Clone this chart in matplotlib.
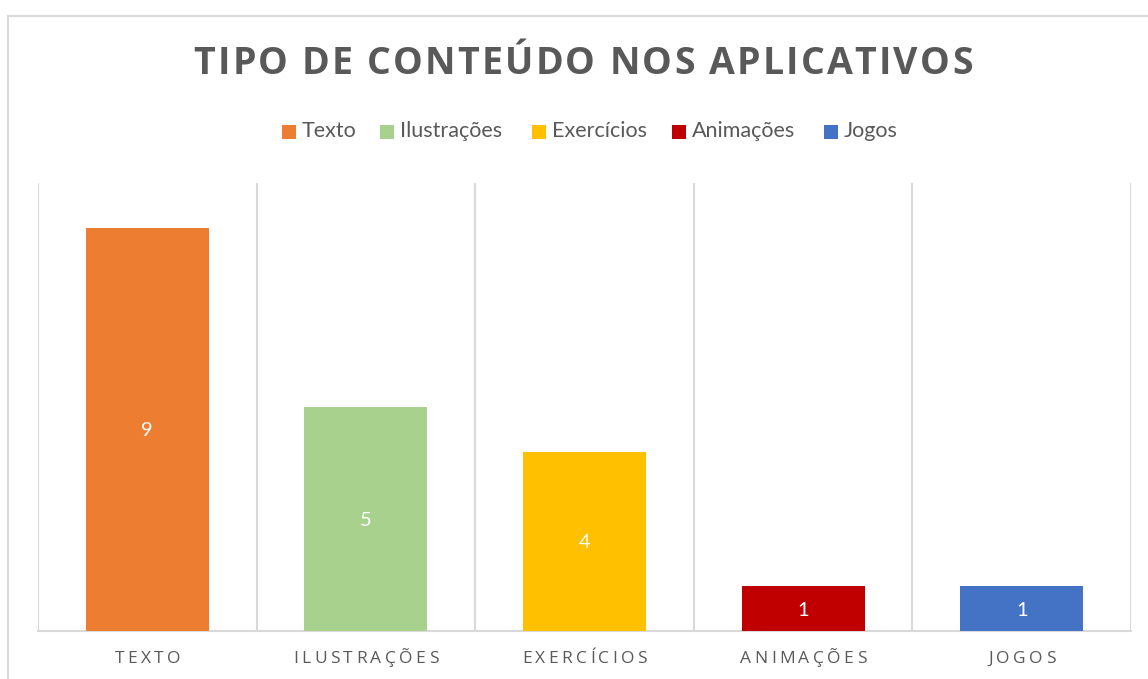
import matplotlib
matplotlib.use("Agg")
import matplotlib.pyplot as plt
from matplotlib.patches import Rectangle
from matplotlib.font_manager import FontProperties

categories = ["Texto", "Ilustrações", "Exercícios", "Animações", "Jogos"]
values = [9, 5, 4, 1, 1]
colors = ["#ED7D31", "#A9D18E", "#FFC000", "#C00000", "#4472C4"]
title = "TIPO DE CONTEÚDO NOS APLICATIVOS"

W, H = 1148, 679
fig = plt.figure(figsize=(W / 100, H / 100), dpi=100)
fig.patch.set_facecolor("white")
GRAY = "#595959"
LINE = "#D9D9D9"

def fx(px):
    return px / W

def fy(py):
    return 1 - py / H

# outer chart frame
fig.patches.append(Rectangle((fx(8), fy(700)), fx(1170) - fx(8), fy(16) - fy(700),
                             transform=fig.transFigure, fill=False, edgecolor=LINE,
                             linewidth=1.5, clip_on=False))

ax = fig.add_axes([fx(38), fy(631), fx(1131) - fx(38), fy(183) - fy(631)])
x = list(range(len(categories)))
bars = ax.bar(x, values, width=0.5625, color=colors, zorder=3)
ax.set_xlim(-0.5, len(categories) - 0.5)
ax.set_ylim(0, 10)
for s in ["top", "left", "right"]:
    ax.spines[s].set_visible(False)
ax.spines["bottom"].set_color(LINE)
ax.spines["bottom"].set_linewidth(1.5)
ax.set_yticks([])
ax.set_xticks([])
for k in range(len(categories) + 1):
    ax.axvline(k - 0.5, color=LINE, linewidth=1.5, zorder=1)

val_font = FontProperties(family="Lato", size=14.5)
for xi, v in zip(x, values):
    ax.text(xi, v / 2, str(v), ha="center", va="center_baseline", color="white",
            fontproperties=val_font, zorder=4)

fig.canvas.draw()
renderer = fig.canvas.get_renderer()

def tracked(cx, cy, s, prop, tracking=None, target=None, color=GRAY):
    widths = [renderer.get_text_width_height_descent(c, prop, ismath=False)[0] for c in s]
    if target is not None:
        tracking = (target - sum(widths)) / (len(s) - 1)
    total = sum(widths) + tracking * (len(s) - 1)
    left = cx - total / 2
    for c, w in zip(s, widths):
        fig.text(fx(left), fy(cy), c, ha="left", va="center", fontproperties=prop, color=color)
        left += w + tracking

title_font = FontProperties(family="Open Sans", weight="bold", size=27)
tracked(583, 64, title, title_font, target=779)

cat_font = FontProperties(family="Open Sans", size=12.5)
cat_w = (1131 - 38) / len(categories)
for i, c in enumerate(categories):
    cx = 38 + cat_w * (i + 0.5)
    tracked(cx, 659, c.upper(), cat_font, tracking=3.4)

leg_font = FontProperties(family="Lato", size=15.5)
sq_x = [282, 380, 532, 672, 824]
for c, col, sx in zip(categories, colors, sq_x):
    fig.patches.append(Rectangle((fx(sx), fy(139)), fx(14), fy(125) - fy(139),
                                 transform=fig.transFigure, facecolor=col, edgecolor="none"))
    fig.text(fx(sx + 20), fy(131), c, ha="left", va="center", fontproperties=leg_font, color=GRAY)

fig.savefig("out.png", dpi=100, facecolor="white")
